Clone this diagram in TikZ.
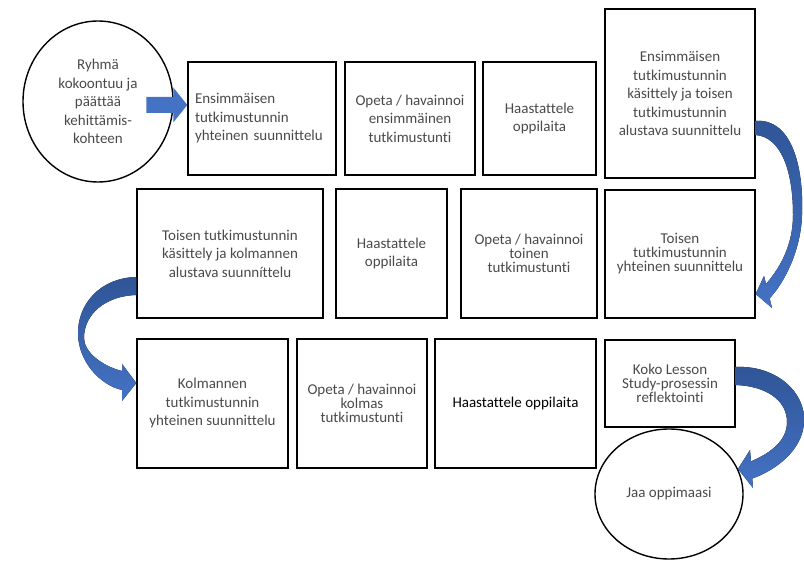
\documentclass[tikz,border=0pt]{standalone}
\usepackage{fontspec}
\setmainfont{Carlito}[Ligatures=NoCommon]
\usepackage{tikz}
\usetikzlibrary{arrows.meta,shapes.geometric,calc}
\definecolor{arrowdark}{HTML}{2F5597}
\definecolor{arrowlight}{HTML}{4472C4}
\definecolor{textgray}{HTML}{4A4A4A}

\begin{document}
\begin{tikzpicture}[x=1pt, y=-1pt, line width=1.4pt,
  box/.style={draw=black, rectangle, inner sep=0pt, align=center, text=textgray, font=\fontsize{15}{18.5}\selectfont},
  tightbox/.style={box, font=\fontsize{15}{14}\selectfont},
  oval/.style={box, ellipse},
  bandarrow/.style={top color=arrowdark, bottom color=arrowlight, draw=none}]
\useasboundingbox (0,0) rectangle (804,561);
\node[oval, minimum width=150, minimum height=161] (r1) at (98,101.5) {Ryhmä\\kokoontuu ja\\päättää\\kehittämis-\\kohteen};
\node[box, align=left, text width=134, inner xsep=7, minimum height=113] (a) at (262,118.5) {Ensimmäisen\\tutkimustunnin\\yhteinen suunnittelu};
\node[box, minimum width=130, minimum height=113] (b) at (410,118.5) {Opeta / havainnoi\\ensimmäinen\\tutkimustunti};
\node[box, minimum width=113, minimum height=113] (c) at (539.5,118.5) {Haastattele\\oppilaita};
\node[box, minimum width=150, minimum height=169] (d) at (680,93.5) {Ensimmäisen\\tutkimustunnin\\käsittely ja toisen\\tutkimustunnin\\alustava suunnittelu};
\node[box, minimum width=186, minimum height=129] (e) at (230,253.5) {Toisen tutkimustunnin\\käsittely ja kolmannen\\alustava suunníttelu};
\node[box, minimum width=111, minimum height=129] (f) at (391.5,253.5) {Haastattele\\oppilaita};
\node[tightbox, minimum width=136, minimum height=129] (g) at (529,253.5) {Opeta / havainnoi\\toinen\\tutkimustunti};
\node[tightbox, minimum width=150, minimum height=128] (h) at (680,254) {Toisen\\tutkimustunnin\\yhteinen suunnittelu};
\node[box, minimum width=151, minimum height=129] (i) at (212.5,403.5) {Kolmannen\\tutkimustunnin\\yhteinen suunnittelu};
\node[tightbox, minimum width=130, minimum height=129] (j) at (362,403.5) {Opeta / havainnoi\\kolmas\\tutkimustunti};
\node[box, text=black, minimum width=161, minimum height=129] (k) at (515.5,403.5) {Haastattele oppilaita};
\node[tightbox, minimum width=130, minimum height=87] (l) at (670,383.5) {Koko Lesson\\Study-prosessin\\reflektointi};
\node[oval, minimum width=148, minimum height=130] (m) at (669,494) {Jaa oppimaasi};
\fill[arrowlight] ($(a.west)+(0,-13.5)$) -- ++(-14,-17.5) -- ++(0,9.5) -- ++(-27,0) -- ++(0,16) -- ++(27,0) -- ++(0,9.5) -- cycle;
\fill[bandarrow] ($(d.east)+(0,27.5)$) .. controls +(35,-3) and +(2,-50) .. (802,215) .. controls +(-1,35) and +(15,-16) .. (769.6,298.4) -- (772,308) -- ($(h.east)+(0,40)$) -- (764,276) -- (766,284) .. controls +(14,-16) and +(0,30) .. (793,215) .. controls +(0,-45) and +(25,2) .. ($(d.east)+(0,41.5)$) -- cycle;
\fill[bandarrow] ($(e.west)+(0,23.5)$) .. controls +(-37,1) and +(-1,-30) .. (78,335) .. controls +(1,27) and +(-22,-5) .. (122,390) -- (122,401) -- ($(i.west)+(0,-20.5)$) -- (122,364) -- (122,371) .. controls +(-20,-5) and +(0,14) .. (84,338) .. controls +(0,-23) and +(-32,1) .. ($(e.west)+(0,41.5)$) -- cycle;
\fill[bandarrow] ($(l.east)+(0,-16.5)$) .. controls +(40,-2) and +(2,-30) .. (804,422) .. controls +(-1,28) and +(23,-8) .. (752.3,478.5) -- (753,488) -- (m.20) -- (750,450) -- (751,461.4) .. controls +(21,-9) and +(0,18) .. (787,422) .. controls +(0,-22) and +(30,1) .. ($(l.east)+(0,1.5)$) -- cycle;
\end{tikzpicture}
\end{document}
